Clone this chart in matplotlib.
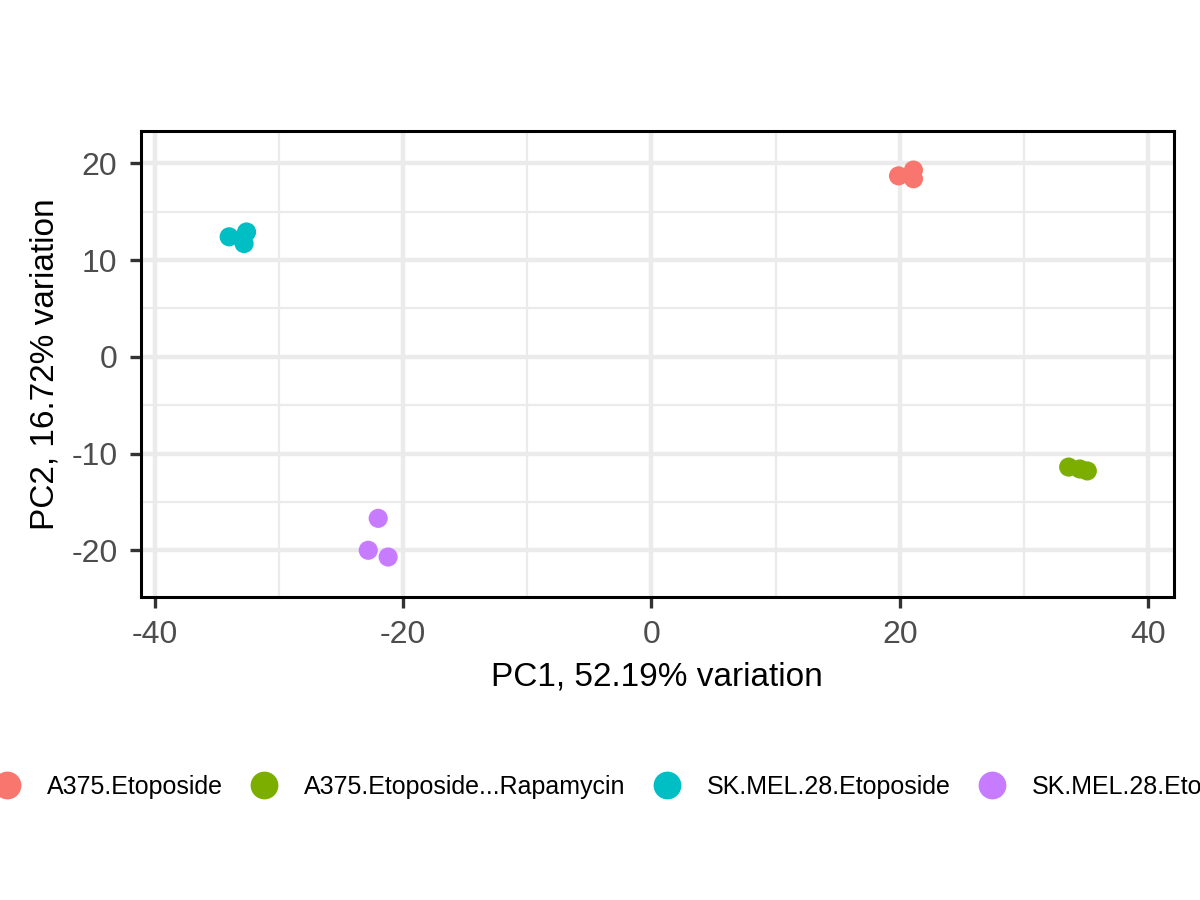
import matplotlib
matplotlib.use("Agg")
import matplotlib.pyplot as plt
from matplotlib.lines import Line2D

plt.rcParams["font.family"] = ["Liberation Sans", "DejaVu Sans"]
plt.rcParams["axes.unicode_minus"] = False

# PCA scores
groups = [
    "A375.Etoposide",
    "A375.Etoposide...Rapamycin",
    "SK.MEL.28.Etoposide",
    "SK.MEL.28.Etoposide...Rapamycin",
]
colours = ["#F8766D", "#7CAE00", "#00BFC4", "#C77CFF"]
pc1 = [
    [19.9, 21.1, 21.1],
    [33.6, 34.5, 35.1],
    [-34.0, -32.6, -32.8],
    [-22.0, -22.8, -21.2],
]
pc2 = [
    [18.7, 19.3, 18.4],
    [-11.4, -11.6, -11.8],
    [12.4, 12.9, 11.7],
    [-16.7, -20.0, -20.7],
]
x_label = "PC1, 52.19% variation"
y_label = "PC2, 16.72% variation"
x_ticks = [-40, -20, 0, 20, 40]
y_ticks = [-20, -10, 0, 10, 20]

fig = plt.figure(figsize=(12, 9), dpi=100)
ax = fig.add_axes([0.1175, 0.337, 0.978 - 0.1175, 0.8548 - 0.337])

for xs, ys, c in zip(pc1, pc2, colours):
    ax.scatter(xs, ys, s=190, color=c, edgecolors="none", zorder=3)

ax.set_xlim(-41.1, 42.05)
ax.set_ylim(-24.8, 23.37)
ax.set_xticks(x_ticks)
ax.set_yticks(y_ticks)
ax.set_xticks([-30, -10, 10, 30], minor=True)
ax.set_yticks([-15, -5, 5, 15], minor=True)
ax.grid(True, which="major", color="#EBEBEB", linewidth=3.2, zorder=0)
ax.grid(True, which="minor", color="#EBEBEB", linewidth=1.6, zorder=0)
ax.set_axisbelow(True)
for sp in ax.spines.values():
    sp.set_linewidth(2.2)
    sp.set_color("black")
ax.tick_params(which="major", length=8, width=2.4, color="#333333",
               labelsize=23, labelcolor="#4D4D4D", pad=9)
ax.tick_params(which="minor", length=0)

ax.set_xlabel(x_label, fontsize=24, labelpad=8)
ax.set_ylabel(y_label, fontsize=24, labelpad=8)

handles = [Line2D([], [], marker="o", linestyle="none", markersize=20,
                  markerfacecolor=c, markeredgecolor="none") for c in colours]
fig.legend(handles, groups, ncol=4, loc="center left",
           bbox_to_anchor=(-0.0058, 1 - 787 / 900), frameon=False,
           fontsize=18, handlelength=1.1, handletextpad=1.05,
           columnspacing=1.1, borderpad=0, borderaxespad=0)

fig.savefig("out.png", dpi=100)
